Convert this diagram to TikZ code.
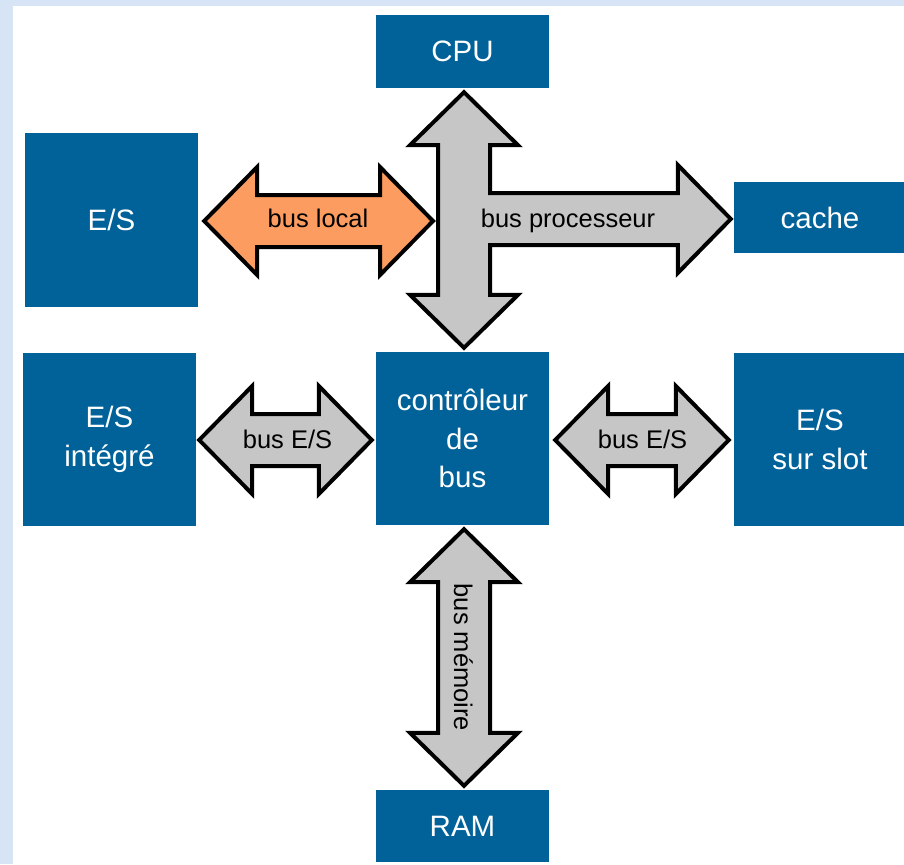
\documentclass[tikz,border=0pt]{standalone}
\usepackage{fontspec}
\setmainfont{Liberation Sans}
\usetikzlibrary{calc}
\definecolor{boxblue}{RGB}{0,98,153}
\definecolor{busorange}{RGB}{252,156,96}
\definecolor{busgray}{RGB}{198,198,198}
\definecolor{bgblue}{RGB}{214,228,246}
\newcommand\bushl{53pt}
\newcommand\bushw{54pt}
\newcommand\bussw{26pt}
% horizontal double arrow between two tip coordinates
\newcommand\mybusH[3][busgray]{%
  \draw[busline,fill=#1] let \p1=#2, \p2=#3 in
  (\x1,\y1) -- (\x1+\bushl,\y1+\bushw) -- (\x1+\bushl,\y1+\bussw)
  -- (\x2-\bushl,\y1+\bussw) -- (\x2-\bushl,\y1+\bushw) -- (\x2,\y1)
  -- (\x2-\bushl,\y1-\bushw) -- (\x2-\bushl,\y1-\bussw)
  -- (\x1+\bushl,\y1-\bussw) -- (\x1+\bushl,\y1-\bushw) -- cycle;}
% vertical double arrow, top tip then bottom tip
\newcommand\mybusV[3][busgray]{%
  \draw[busline,fill=#1] let \p1=#2, \p2=#3 in
  (\x1,\y1) -- (\x1+\bushw,\y1-\bushl) -- (\x1+\bussw,\y1-\bushl)
  -- (\x1+\bussw,\y2+\bushl) -- (\x1+\bushw,\y2+\bushl) -- (\x1,\y2)
  -- (\x1-\bushw,\y2+\bushl) -- (\x1-\bussw,\y2+\bushl)
  -- (\x1-\bussw,\y1-\bushl) -- (\x1-\bushw,\y1-\bushl) -- cycle;}
\tikzset{
  x=1pt, y=-1pt,
  box/.style={fill=boxblue, draw=none, text=white, inner sep=0pt,
    align=center, font=\fontsize{29.5}{38.5}\selectfont},
  busline/.style={draw=black, line width=4pt, line join=miter},
  buslabel/.style={text=black, inner sep=0pt, font=\fontsize{25.5}{30}\selectfont},
}
\begin{document}
\begin{tikzpicture}
\useasboundingbox (0,0) rectangle (904,864);
\clip (0,0) rectangle (904,864);
\fill[bgblue] (0,0) rectangle (904,864);
\fill[white] (13,6) rectangle (904,864);

% boxes
\node[box, minimum width=173pt, minimum height=73pt] (cpu) at (462.5,51.5) {CPU};
\node[box, minimum width=173pt, minimum height=174pt] (es) at (111.5,220) {E/S};
\node[box, minimum width=172pt, minimum height=71pt] (cache) at (820,217.5) {cache};
\node[box, minimum width=173pt, minimum height=173pt] (esi) at (109.5,439.5) {E/S\\intégré};
\node[box, minimum width=173pt, minimum height=173pt] (ctrl) at (462.5,438.5) {contrôleur\\de\\bus};
\node[box, minimum width=172pt, minimum height=173pt] (ess) at (820,439.5) {E/S\\sur slot};
\node[box, minimum width=173pt, minimum height=72pt] (ram) at (462.5,826) {RAM};

% arrow tip coordinates
\coordinate (pt) at ($(cpu.south)+(1.5,4)$);
\coordinate (pb) at ($(ctrl.north)+(1.5,-4)$);
\coordinate (pr) at ($(cache.west)+(-3,1.5)$);
\coordinate (ol) at ($(es.east)+(6,1)$);
\coordinate (or) at ($(ol -| pt)+(-31,0)$);
\coordinate (gl1) at ($(esi.east)+(3,0.5)$);
\coordinate (gl2) at ($(ctrl.west)+(-4,1.5)$);
\coordinate (gr1) at ($(ctrl.east)+(6,1.5)$);
\coordinate (gr2) at ($(ess.west)+(-5,0.5)$);
\coordinate (mt) at ($(ctrl.south)+(1.5,4)$);
\coordinate (mb) at ($(ram.north)+(1.5,-4)$);

% processor bus (cross shaped)
\draw[busline,fill=busgray] let \p1=(pt), \p2=(pb), \p3=(pr) in
  (\x1,\y1) -- (\x1+\bushw,\y1-\bushl) -- (\x1+\bussw,\y1-\bushl)
  -- (\x1+\bussw,\y3+\bussw) -- (\x3-\bushl,\y3+\bussw) -- (\x3-\bushl,\y3+\bushw)
  -- (\x3,\y3) -- (\x3-\bushl,\y3-\bushw) -- (\x3-\bushl,\y3-\bussw)
  -- (\x1+\bussw,\y3-\bussw) -- (\x1+\bussw,\y2+\bushl) -- (\x1+\bushw,\y2+\bushl)
  -- (\x1,\y2) -- (\x1-\bushw,\y2+\bushl) -- (\x1-\bussw,\y2+\bushl)
  -- (\x1-\bussw,\y1-\bushl) -- (\x1-\bushw,\y1-\bushl) -- cycle;

% other buses
\mybusH[busorange]{(ol)}{(or)}
\mybusH{(gl1)}{(gl2)}
\mybusH{(gr1)}{(gr2)}
\mybusV{(mt)}{(mb)}

% labels
\node[buslabel, anchor=base] (lloc) at (318,227) {bus local};
\node[buslabel, anchor=base] (lproc) at (568,227) {bus processeur};
\node[buslabel, anchor=base] (lio1) at (287.5,448) {bus E/S};
\node[buslabel, anchor=base] (lio2) at (642.5,448) {bus E/S};
\node[buslabel, rotate=-90] (lmem) at (463.5,657.5) {bus mémoire};
\end{tikzpicture}
\end{document}
